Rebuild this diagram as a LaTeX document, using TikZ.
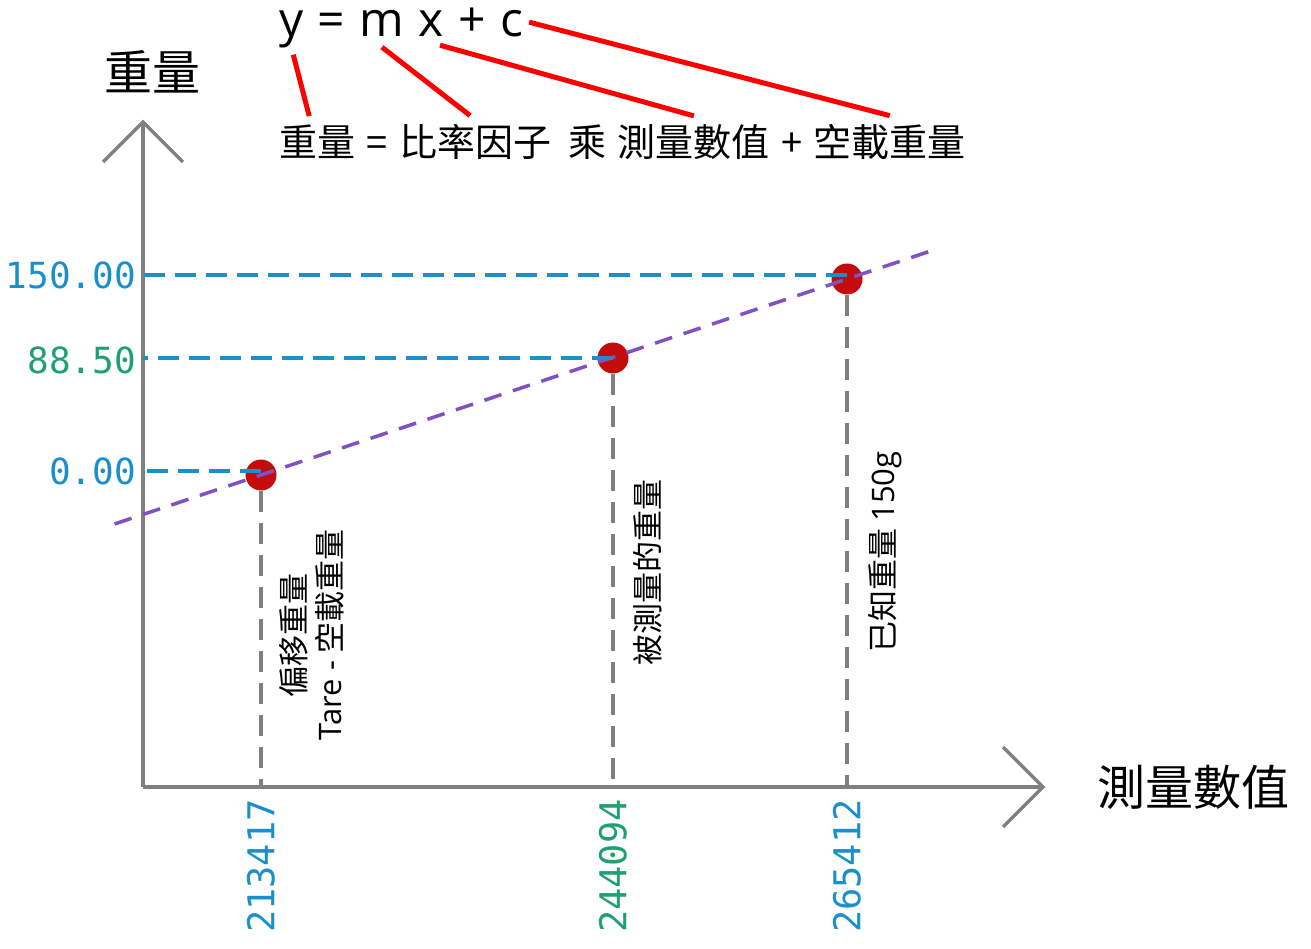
\documentclass[tikz,border=0pt]{standalone}
\usepackage{fontspec}
\setmainfont{Noto Sans CJK TC}
\setmonofont{DejaVu Sans Mono}
\newfontfamily\latina{Open Sans}
\usetikzlibrary{positioning,calc}
\definecolor{gris}{HTML}{808080}
\definecolor{azul}{HTML}{1B8FCB}
\definecolor{verde}{HTML}{1FA070}
\definecolor{rojo}{HTML}{C40C0C}
\definecolor{lila}{HTML}{7E52C0}
\tikzset{
  eje/.style={draw=gris, line width=3.5pt},
  punto/.style={circle, fill=rojo, minimum size=31pt, inner sep=0pt},
  guia/.style={draw=azul, line width=3.5pt, dash pattern=on 21pt off 10pt},
  bajada/.style={draw=gris, line width=3.5pt, dash pattern=on 21pt off 11pt},
  recta/.style={draw=lila, line width=3.5pt, dash pattern=on 18pt off 12pt},
  valor/.style={font=\ttfamily\fontsize{36}{40}\selectfont, inner sep=0pt},
  valorv/.style={valor, font=\ttfamily\fontsize{37}{40}\selectfont, rotate=90, anchor=east},
  titulo/.style={font=\latina\fontsize{48}{52}\selectfont, inner sep=0pt},
  formula/.style={font=\fontsize{38}{44}\selectfont, inner sep=0pt},
  nota/.style={font=\fontsize{31}{36}\selectfont, align=center, rotate=90, inner sep=0pt},
  rotulo/.style={font=\fontsize{48}{54}\selectfont, inner sep=0pt},
  enlace/.style={draw=red, line width=5pt}
}
\begin{document}
\begin{tikzpicture}[x=1pt, y=-1pt]
  \useasboundingbox (0,0) rectangle (1311,949);
  % los ejes
  \coordinate (O) at (143,787);
  \coordinate (ytop) at (143,122);
  \coordinate (xtop) at (1043,787);
  \draw[eje] (O) -- (ytop);
  \draw[eje] ([shift={(-40,40)}]ytop) -- (ytop) -- ([shift={(40,40)}]ytop);
  \draw[eje] (O) -- (xtop);
  \draw[eje] ([shift={(-40,-40)}]xtop) -- (xtop) -- ([shift={(-40,40)}]xtop);
  \node[rotulo] (ylab) at (152,72) {重量};
  \node[rotulo] (xlab) at (1193,787) {測量數值};
  % los puntos medidos
  \node[punto] (p0) at (261,475) {};
  \node[punto] (p1) at (613,358) {};
  \node[punto] (p2) at (847,279) {};
  \coordinate (b0) at (p0 |- O);
  \coordinate (b1) at (p1 |- O);
  \coordinate (b2) at (p2 |- O);
  \draw[bajada] (p0.south) -- (b0);
  \draw[bajada] (p1.south) -- (b1);
  \draw[bajada] (p2.south) -- (b2);
  % la recta de calibracion
  \draw[recta] ($(p0)!-0.25!(p2)$) -- ($(p0)!1.153!(p2)$);
  \draw[guia] (p2.center |- 0,275) -- (O |- 0,275);
  \draw[guia] (p1.center) -- (p1 -| O);
  \draw[guia] (p0.center |- 0,471) -- (O |- 0,471);
  % los valores
  \node[valor, azul, anchor=east] (v2) at (136,275) {150.00};
  \node[valor, verde, anchor=east] (v1) at (136,360) {88.50};
  \node[valor, azul, anchor=east] (v0) at (136,471) {0.00};
  \node[valorv, azul] (m0) at ([yshift=-12pt]b0) {213417};
  \node[valorv, verde] (m1) at ([yshift=-12pt]b1) {244094};
  \node[valorv, azul] (m2) at ([yshift=-12pt]b2) {265412};
  % las notas
  \node[nota] (n0) at ([shift={(51,160)}]p0) {偏移重量\\{\latina Tare -} 空載重量};
  \node[nota] (n1) at ([shift={(35,214)}]p1) {被測量的重量};
  \node[nota] (n2) at ([shift={(38,273)}]p2) {已知重量 {\latina 150g}};
  % la ecuacion
  \node[titulo, anchor=base west] (ty) at (279,37) {y};
  \node[titulo, base right=14pt of ty] (teq) {=};
  \node[titulo, base right=14pt of teq] (tm) {m};
  \node[titulo, base right=14pt of tm] (tx) {x};
  \node[titulo, base right=14pt of tx] (tp) {+};
  \node[titulo, base right=14pt of tp] (tc) {c};
  \node[formula, anchor=base west] (fy) at (279,157) {重量};
  \node[formula, base right=11pt of fy] (feq) {=};
  \node[formula, base right=11pt of feq] (fm) {比率因子};
  \node[formula, base right=17pt of fm] (fpor) {乘};
  \node[formula, base right=11pt of fpor] (fx) {測量數值};
  \node[formula, base right=11pt of fx] (fp) {+};
  \node[formula, base right=11pt of fp] (fc) {空載重量};
  \draw[enlace] ([shift={(2,6)}]ty.south) -- ([shift={(-8,-9)}]fy.north);
  \draw[enlace] ([shift={(0,10)}]tm.south) -- ([shift={(-5,-9)}]fm.north);
  \draw[enlace] ([shift={(-4,8)}]tx.south east) -- ([yshift=9pt]fx.north);
  \draw[enlace] ([shift={(6,-2)}]tc.east) -- ([yshift=9pt]fc.north);
\end{tikzpicture}
\end{document}
